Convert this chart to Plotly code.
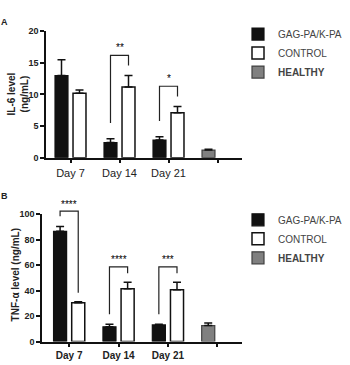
import plotly.graph_objects as go

# ---------------- data ----------------
days = ["Day 7", "Day 14", "Day 21"]
healthy_cat = ["HEALTHY"]
tick_labels = ["Day 7", "Day 14", "Day 21", ""]

il6_gag = [13.0, 2.4, 2.8]
il6_gag_err = [2.5, 0.6, 0.5]
il6_ctrl = [10.2, 11.2, 7.1]
il6_ctrl_err = [0.5, 1.8, 1.0]
il6_healthy = [1.2]
il6_healthy_err = [0.15]

tnf_gag = [86.5, 11.5, 13.0]
tnf_gag_err = [3.8, 2.0, 0.5]
tnf_ctrl = [30.5, 41.5, 40.7]
tnf_ctrl_err = [0.8, 5.1, 5.9]
tnf_healthy = [12.5]
tnf_healthy_err = [2.0]

il6_sig = ["", "**", "*"]
tnf_sig = ["****", "****", "***"]

# ---------------- style ----------------
FONT = "Liberation Sans, Arial, sans-serif"
BLACK = "#111111"
GRAY = "#808080"
W = 350
H = 365

XA_DOM = [46 / W, 242 / W]
XA_RNG = [-0.5, 3.5]
YA_DOM = [(H - 157) / H, (H - 27) / H]
YA_RNG = [0, 20]
XB_DOM = [42 / W, 242 / W]
XB_RNG = [-0.55, 3.5]
YB_DOM = [(H - 346) / H, (H - 215) / H]
YB_RNG = [0, 100]

fig = go.Figure()

def add_panel(xa, ya, leg, gag, gag_e, ctrl, ctrl_e, hl, hl_e):
    eb = dict(type="data", thickness=1.5, width=4, color=BLACK)
    fig.add_trace(go.Bar(
        x=days, y=gag, name="GAG-PA/K-PA", xaxis=xa, yaxis=ya, legend=leg,
        offsetgroup="1", marker=dict(color=BLACK, line=dict(color=BLACK, width=1.2)),
        error_y=dict(array=gag_e, arrayminus=[0] * len(gag), **eb), cliponaxis=False))
    fig.add_trace(go.Bar(
        x=days, y=ctrl, name="CONTROL", xaxis=xa, yaxis=ya, legend=leg,
        offsetgroup="2", marker=dict(color="white", line=dict(color=BLACK, width=1.5)),
        error_y=dict(array=ctrl_e, arrayminus=[0] * len(ctrl), **eb), cliponaxis=False))
    fig.add_trace(go.Bar(
        x=healthy_cat, y=hl, name="<b>HEALTHY</b>", xaxis=xa, yaxis=ya, legend=leg,
        offsetgroup="1", marker=dict(color=GRAY, line=dict(color="#404040", width=1.2)),
        error_y=dict(array=hl_e, arrayminus=[0], **eb), cliponaxis=False))

add_panel("x", "y", "legend", il6_gag, il6_gag_err, il6_ctrl, il6_ctrl_err, il6_healthy, il6_healthy_err)
add_panel("x2", "y2", "legend2", tnf_gag, tnf_gag_err, tnf_ctrl, tnf_ctrl_err, tnf_healthy, tnf_healthy_err)

bargap = 0.265
slot = (1 - bargap) / 2
off = slot / 2

def to_paper(v, dom, rng):
    return dom[0] + (v - rng[0]) / (rng[1] - rng[0]) * (dom[1] - dom[0])

def brackets(xdom, xrng, ydom, yrng, gag, gag_e, ctrl, ctrl_e, sig, pad_top, pad_l, pad_r, star_pad):
    for i, s in enumerate(sig):
        if not s:
            continue
        top = max(gag[i] + gag_e[i], ctrl[i] + ctrl_e[i]) + pad_top
        yl = gag[i] + gag_e[i] + pad_l
        yrr = ctrl[i] + ctrl_e[i] + pad_r
        px_l = to_paper(i - off, xdom, xrng)
        px_r = to_paper(i + off, xdom, xrng)
        py_t = to_paper(top, ydom, yrng)
        py_l = to_paper(yl, ydom, yrng)
        py_r = to_paper(yrr, ydom, yrng)
        fig.add_shape(type="path", xref="paper", yref="paper",
                      path=f"M {px_l} {py_l} L {px_l} {py_t} L {px_r} {py_t} L {px_r} {py_r}",
                      line=dict(color="#222222", width=1.2))
        fig.add_annotation(x=to_paper(i, xdom, xrng), y=to_paper(top + star_pad, ydom, yrng),
                           xref="paper", yref="paper", text=s,
                           showarrow=False, xanchor="center", yanchor="middle",
                           font=dict(family=FONT, size=10, color="#000000"))

brackets(XA_DOM, XA_RNG, YA_DOM, YA_RNG, il6_gag, il6_gag_err, il6_ctrl, il6_ctrl_err,
         il6_sig, 3.2, 2.5, 1.6, 1.3)
brackets(XB_DOM, XB_RNG, YB_DOM, YB_RNG, tnf_gag, tnf_gag_err, tnf_ctrl, tnf_ctrl_err,
         tnf_sig, 12.0, 8.0, 7.0, 5.5)

axis_common = dict(showline=True, linecolor=BLACK, linewidth=1.5, ticks="outside",
                   ticklen=4, tickwidth=1.5, tickcolor=BLACK, showgrid=False, zeroline=False,
                   mirror=False)

xcats = days + healthy_cat
fig.update_layout(
    width=W, height=H, margin=dict(l=0, r=0, t=0, b=0),
    paper_bgcolor="white", plot_bgcolor="white",
    barmode="group", bargap=bargap, bargroupgap=0.28,
    font=dict(family=FONT, color=BLACK),
    xaxis=dict(domain=XA_DOM, anchor="y", type="category",
               categoryorder="array", categoryarray=xcats, range=XA_RNG,
               tickvals=xcats, ticktext=tick_labels,
               tickfont=dict(family=FONT, size=11, color="#222222"), **axis_common),
    yaxis=dict(domain=YA_DOM, anchor="x", range=YA_RNG,
               tickvals=[0, 5, 10, 15, 20],
               tickfont=dict(family=FONT, size=9, color="#222222", weight="bold"), **axis_common),
    xaxis2=dict(domain=XB_DOM, anchor="y2", type="category",
                categoryorder="array", categoryarray=xcats, range=XB_RNG,
                tickvals=xcats, ticktext=tick_labels,
                tickfont=dict(family=FONT, size=10, color="#222222", weight="bold"), **axis_common),
    yaxis2=dict(domain=YB_DOM, anchor="x2", range=YB_RNG,
                tickvals=[0, 20, 40, 60, 80, 100],
                tickfont=dict(family=FONT, size=9, color="#222222", weight="bold"), **axis_common),
    legend=dict(x=238 / W, y=(H - 15) / H, xanchor="left", yanchor="top",
                font=dict(family=FONT, size=10, color="#444444"),
                bgcolor="rgba(0,0,0,0)", tracegroupgap=0),
    legend2=dict(x=238 / W, y=(H - 206) / H, xanchor="left", yanchor="top",
                 font=dict(family=FONT, size=10, color="#444444"),
                 bgcolor="rgba(0,0,0,0)", tracegroupgap=0),
)

# y-axis titles and panel letters
fig.add_annotation(x=18 / W, y=(H - 92) / H, xref="paper", yref="paper",
                   text="IL-6 level<br>(ng/mL)", textangle=-90, showarrow=False,
                   xanchor="center", yanchor="middle",
                   font=dict(family=FONT, size=10, color="#222222", weight="bold"))
fig.add_annotation(x=15 / W, y=(H - 278) / H, xref="paper", yref="paper",
                   text="TNF-α level (ng/mL)", textangle=-90, showarrow=False,
                   xanchor="center", yanchor="middle",
                   font=dict(family=FONT, size=10, color="#222222", weight="bold"))
fig.add_annotation(x=4 / W, y=(H - 17) / H, xref="paper", yref="paper", text="A",
                   showarrow=False, xanchor="center", yanchor="middle",
                   font=dict(family=FONT, size=9, color="#222222", weight="bold"))
fig.add_annotation(x=4 / W, y=(H - 196) / H, xref="paper", yref="paper", text="B",
                   showarrow=False, xanchor="center", yanchor="middle",
                   font=dict(family=FONT, size=9, color="#222222", weight="bold"))

fig.write_html("out.html")
